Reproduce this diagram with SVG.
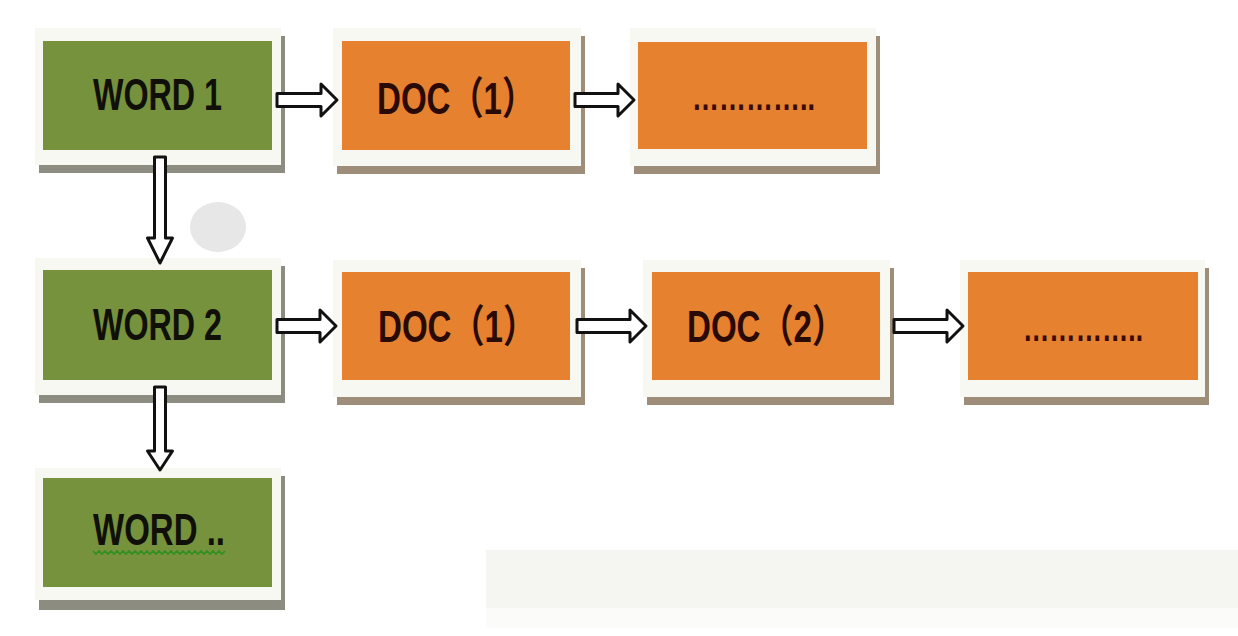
<svg xmlns="http://www.w3.org/2000/svg" width="1238" height="636" viewBox="0 0 1238 636">
<style>
.frame{fill:#f8f8f3}
.gshadow{fill:#8c8c80}
.oshadow{fill:#9e8d78}
.green{fill:#76923c}
.orange{fill:#e5812f}
.wtxt{font-family:"Liberation Sans","Noto Sans CJK SC",sans-serif;font-weight:bold;font-size:44px;fill:#101008}
.dtxt{font-family:"Liberation Sans","Noto Sans CJK SC",sans-serif;font-weight:bold;font-size:44px;fill:#2a0a04}
.dots{font-family:"Liberation Sans",sans-serif;font-weight:bold;font-size:36px;fill:#3a0a04}
.arrow{fill:#ffffff;stroke:#111111;stroke-width:3;stroke-linejoin:round}
</style>
<rect width="1238" height="636" fill="#ffffff"/>
<!-- faint artifacts -->
<rect x="486" y="550" width="752" height="58" fill="#f5f5f2"/>
<rect x="486" y="608" width="752" height="20" fill="#fbfbfa"/>
<ellipse cx="218" cy="227" rx="28" ry="25" fill="#e7e7e7"/>

<g id="word1">
<rect class="gshadow" x="39" y="36" width="246" height="137"/>
<rect class="frame" x="35" y="28" width="246" height="137"/>
<rect class="green" x="43" y="41" width="229" height="109"/>
<text class="wtxt" x="93" y="110" textLength="129" lengthAdjust="spacingAndGlyphs">WORD 1</text>
</g>
<g id="word2">
<rect class="gshadow" x="39" y="266" width="246" height="137"/>
<rect class="frame" x="35" y="258" width="246" height="137"/>
<rect class="green" x="43" y="270" width="229" height="110"/>
<text class="wtxt" x="93" y="340" textLength="129" lengthAdjust="spacingAndGlyphs">WORD 2</text>
</g>
<g id="word3">
<rect class="gshadow" x="39" y="476" width="246" height="134"/>
<rect class="frame" x="35" y="468" width="246" height="132"/>
<rect class="green" x="43" y="478" width="229" height="109"/>
<text class="wtxt" x="93" y="545" textLength="132" lengthAdjust="spacingAndGlyphs">WORD ..</text>
<path d="M93,551 l3,3 l3,-3 l3,3 l3,-3 l3,3 l3,-3 l3,3 l3,-3 l3,3 l3,-3 l3,3 l3,-3 l3,3 l3,-3 l3,3 l3,-3 l3,3 l3,-3 l3,3 l3,-3 l3,3 l3,-3 l3,3 l3,-3 l3,3 l3,-3 l3,3 l3,-3 l3,3 l3,-3 l3,3 l3,-3 l3,3 l3,-3 l3,3 l3,-3 l3,3 l3,-3 l3,3 l3,-3 l3,3 l3,-3 l3,3 l3,-3" fill="none" stroke="#2f8f1f" stroke-width="1.6"/>
</g>
<g id="doc1a">
<rect class="oshadow" x="337" y="36" width="248" height="138"/>
<rect class="frame" x="333" y="28" width="248" height="138"/>
<rect class="orange" x="342" y="41" width="228" height="109"/>
<text class="dtxt" x="377" y="114" textLength="158" lengthAdjust="spacingAndGlyphs">DOC（1）</text>
</g>
<g id="dotsa">
<rect class="oshadow" x="634" y="36" width="246" height="138"/>
<rect class="frame" x="630" y="28" width="246" height="138"/>
<rect class="orange" x="638" y="42" width="229" height="107"/>
<text class="dots" x="692" y="110" textLength="123" lengthAdjust="spacingAndGlyphs">…………..</text>
</g>
<g id="doc1b">
<rect class="oshadow" x="337" y="268" width="248" height="137"/>
<rect class="frame" x="333" y="260" width="248" height="137"/>
<rect class="orange" x="342" y="272" width="228" height="108"/>
<text class="dtxt" x="378" y="342" textLength="158" lengthAdjust="spacingAndGlyphs">DOC（1）</text>
</g>
<g id="doc2">
<rect class="oshadow" x="647" y="268" width="247" height="137"/>
<rect class="frame" x="643" y="260" width="247" height="137"/>
<rect class="orange" x="652" y="272" width="228" height="108"/>
<text class="dtxt" x="687" y="342" textLength="158" lengthAdjust="spacingAndGlyphs">DOC（2）</text>
</g>
<g id="dotsb">
<rect class="oshadow" x="964" y="268" width="245" height="137"/>
<rect class="frame" x="960" y="260" width="245" height="137"/>
<rect class="orange" x="968" y="272" width="230" height="108"/>
<text class="dots" x="1023" y="341" textLength="120" lengthAdjust="spacingAndGlyphs">…………..</text>
</g>

<g id="connectors">
<path class="arrow" d="M277,93.5 H321 V84 L337,100 L321,116 V106.5 H277 Z"/>
<path class="arrow" d="M575,93.5 H618 V84 L634,100 L618,116 V106.5 H575 Z"/>
<path class="arrow" d="M277,319.5 H320 V310 L336,326 L320,342 V332.5 H277 Z"/>
<path class="arrow" d="M577,319.5 H630 V310 L646,326 L630,342 V332.5 H577 Z"/>
<path class="arrow" d="M894,319.5 H947 V310 L963,326 L947,342 V332.5 H894 Z"/>
<path class="arrow" d="M154.5,157 H165.5 V238 H172.5 L160,263 L147.5,238 H154.5 Z"/>
<path class="arrow" d="M154.5,387 H165.5 V451 H172.5 L160,470 L147.5,451 H154.5 Z"/>
</g>
</svg>
